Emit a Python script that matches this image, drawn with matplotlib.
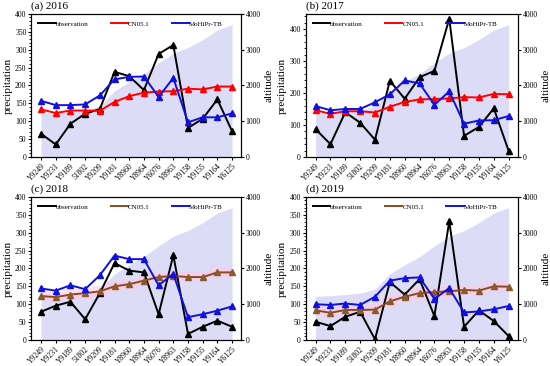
import matplotlib
matplotlib.use("Agg")
import matplotlib.pyplot as plt
import numpy as np
from matplotlib.lines import Line2D
from matplotlib.ticker import AutoMinorLocator, MultipleLocator

plt.rcParams['font.family'] = ['Liberation Serif', 'DejaVu Serif']

stations = ["Y9249", "Y9231", "Y9189", "51802", "Y9209", "Y9181", "Y8960",
            "Y8964", "Y6076", "Y8963", "Y9158", "Y9155", "Y9164", "Y6125"]
altitude = [1220, 1240, 1270, 1310, 1420, 1850, 2100, 2330, 2630, 2900,
            3060, 3280, 3550, 3700]

obs_2016 = [65, 35, 93, 121, 134, 238, 226, 187, 288, 313, 81, 107, 161, 72]
cn_2016 = [133, 123, 130, 130, 129, 154, 170, 180, 183, 184, 191, 189, 197, 197]
mo_2016 = [157, 145, 145, 147, 172, 217, 224, 225, 168, 221, 97, 111, 111, 122]

obs_2017 = [87, 40, 140, 107, 54, 238, 182, 249, 269, 432, 66, 94, 152, 19]
cn_2017 = [146, 135, 143, 143, 139, 157, 172, 180, 181, 183, 187, 186, 197, 196]
mo_2017 = [159, 146, 150, 150, 171, 196, 239, 230, 163, 205, 104, 114, 115, 128]

obs_2018 = [79, 96, 107, 58, 131, 215, 194, 189, 72, 237, 17, 37, 54, 37]
cn_2018 = [123, 120, 127, 131, 136, 150, 156, 166, 176, 179, 176, 176, 189, 189]
mo_2018 = [144, 138, 153, 142, 181, 236, 226, 226, 153, 185, 64, 72, 82, 94]

obs_2019 = [51, 39, 65, 79, 2, 162, 127, 170, 67, 332, 37, 83, 53, 11]
cn_2019 = [83, 76, 84, 84, 85, 108, 121, 131, 134, 136, 140, 138, 150, 149]
mo_2019 = [100, 98, 102, 98, 121, 166, 173, 175, 115, 145, 77, 80, 86, 95]

panels = [
    ("(a) 2016", obs_2016, cn_2016, mo_2016, "red", 400),
    ("(b) 2017", obs_2017, cn_2017, mo_2017, "red", 447),
    ("(c) 2018", obs_2018, cn_2018, mo_2018, "#8b4a1c", 400),
    ("(d) 2019", obs_2019, cn_2019, mo_2019, "#8b4a1c", 400),
]
positions = [
    [0.057, 0.571, 0.381, 0.391],
    [0.556, 0.571, 0.385, 0.391],
    [0.057, 0.071, 0.381, 0.391],
    [0.556, 0.071, 0.385, 0.391],
]

fig = plt.figure(figsize=(5.5, 3.66), dpi=100)
x = np.arange(len(stations))

for i, (title, obs, cn, mo, cn_col, ytop) in enumerate(panels):
    ax = fig.add_axes(positions[i])
    ax2 = ax.twinx()
    ax2.fill_between(x, 0, altitude, color="#dcdcf6", lw=0)
    ax2.set_ylim(0, 4000)
    ax2.yaxis.set_major_locator(MultipleLocator(1000))
    ax2.set_ylabel("altitude", fontsize=8, labelpad=3)
    ax2.tick_params(labelsize=5.5, length=2.5, pad=1)

    ax.set_zorder(ax2.get_zorder() + 1)
    ax.patch.set_visible(False)

    if cn_col != "red":
        # light pink band around CN05.1
        ax.fill_between(x, np.array(cn) - 15, np.array(cn) + 15, step="mid",
                        color="#ffc8e6", alpha=0.6, lw=0)
    ax.plot(x, obs, color="black", marker="^", ms=4, lw=1.4)
    ax.plot(x, cn, color=cn_col, marker="^", ms=4, lw=1.4,
            mfc=cn_col if cn_col == "red" else "#8b5a2b",
            mec=cn_col if cn_col == "red" else "#8b5a2b")
    ax.plot(x, mo, color="#1010e0", marker="^", ms=4, lw=1.4)

    ax.set_xlim(-0.66, 13.6)
    ax.set_ylim(0, ytop)
    ax.yaxis.set_major_locator(MultipleLocator(50 if ytop == 400 else 100))
    ax.yaxis.set_minor_locator(AutoMinorLocator(5))
    ax.set_xticks(x)
    ax.set_xticklabels(stations, rotation=45, ha="right", rotation_mode="anchor")
    ax.tick_params(labelsize=5.5, length=2.5, pad=1)
    ax.tick_params(axis="y", which="minor", length=1.2)
    ax.set_ylabel("precipitation", fontsize=8, labelpad=2)
    ax.text(0.0, 1.02, title, transform=ax.transAxes, fontsize=8,
            ha="left", va="bottom")

    handles = [Line2D([], [], color="black", lw=1.4),
               Line2D([], [], color=cn_col, lw=1.4),
               Line2D([], [], color="#1010e0", lw=1.4)]
    ax.legend(handles, ["observation", "CN05.1", "MoHiPr-TB"], ncol=3,
              loc="upper left", frameon=False, fontsize=5, handlelength=2.5,
              handletextpad=0.0, columnspacing=3.2, borderaxespad=0.6)

fig.savefig("out.png", dpi=100)
